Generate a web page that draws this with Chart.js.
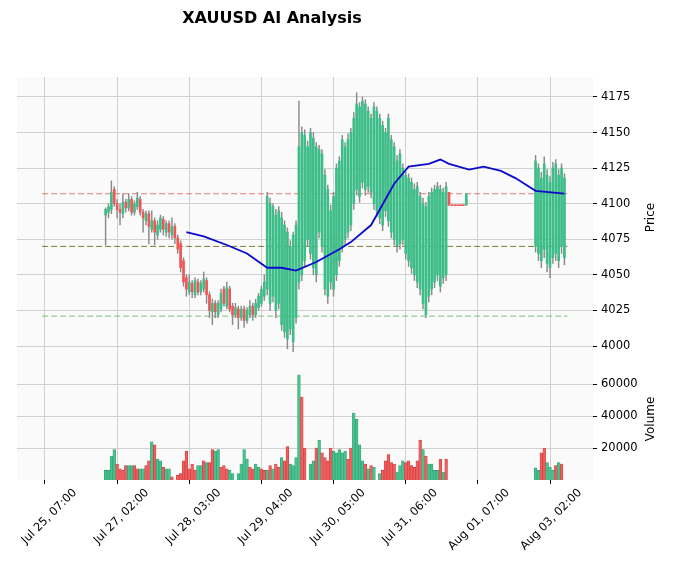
<!DOCTYPE html>
<html><head><meta charset="utf-8">
<script src="https://cdn.jsdelivr.net/npm/chart.js@4/dist/chart.umd.min.js"></script>
<style>html,body{margin:0;padding:0;background:#fff}#wrap{width:675px;height:578px}</style>
</head><body><div id="wrap"><canvas id="c" width="675" height="578"></canvas></div>
<script>
const chartTitle = "XAUUSD AI Analysis";
const tickPos = [0,25,50,75,100,125,150,175];
const tickLabels = ["Jul 25, 07:00","Jul 27, 02:00","Jul 28, 03:00","Jul 29, 04:00","Jul 30, 05:00","Jul 31, 06:00","Aug 01, 07:00","Aug 03, 02:00"];
const priceTicks = [4000,4025,4050,4075,4100,4125,4150,4175];
const volTicks = [20000,40000,60000];

// candle bar positions (bar index): 21..146 and 170..180
const candleRanges = [[21,146],[170,180]];
const open = [
4092,4094,4096,4110,4100,4096,4093,4101,4097,4103,4094,4098,4103,4094,4088,4093,4082,4088,4078,4082,4089,4080,4086,4078,4084,4076,4072,4060,
4048,4038,4044,4036,4045,4038,4040,4046,4036,4024,4030,4022,4026,4040,4028,4040,4028,4022,4026,4020,4026,4018,4022,4028,4022,4027,4030,4035,
4040,4030,4035,4025,4030,4015,4010,4005,4012,4003,4020,4045,4050,4060,4075,4065,4055,4050,4080,4070,4040,4035,4045,4040,4050,4060,4070,4075,4080,4085,
4100,4110,4105,4115,4110,4112,4108,4100,4095,4090,4085,4095,4088,4080,4075,4070,4072,4075,4065,4060,4055,4050,4045,4040,4030,4022,4035,4040,4045,4050,4042,4048,4050,
4108,4099,4099,4099,4099,4099,4099,
4070,4065,4060,4068,4058,4055,4062,4065,4060,4070,4062];
const close = [
4096,4098,4108,4100,4096,4094,4101,4097,4103,4094,4100,4104,4094,4090,4093,4084,4088,4080,4085,4090,4082,4086,4080,4084,4076,4068,4055,4045,
4040,4045,4038,4046,4038,4044,4047,4036,4025,4030,4024,4030,4037,4030,4041,4026,4022,4027,4020,4026,4018,4025,4028,4022,4030,4035,4040,4045,
4105,4100,4098,4092,4095,4090,4085,4080,4070,4078,4085,4140,4150,4148,4140,4150,4146,4140,4138,4135,4120,4110,4095,4105,4125,4130,4145,4140,4145,4150,
4160,4170,4168,4172,4170,4165,4160,4168,4165,4160,4155,4150,4160,4145,4140,4130,4135,4125,4120,4118,4115,4110,4112,4105,4100,4098,4105,4108,4110,4112,4110,4108,4112,
4099,4098.6,4098.6,4098.6,4098.6,4098.6,4107,
4130,4125,4118,4128,4120,4115,4125,4128,4120,4125,4118];
const high = [
4097,4100,4116,4112,4103,4100,4107,4103,4107,4105,4102,4108,4105,4096,4095,4095,4095,4090,4088,4092,4091,4088,4088,4090,4086,4078,4074,4062,
4050,4050,4046,4048,4047,4046,4052,4048,4038,4033,4032,4032,4040,4042,4045,4042,4030,4030,4028,4028,4028,4027,4032,4030,4033,4037,4042,4050,
4108,4104,4100,4096,4098,4094,4088,4083,4074,4080,4088,4172,4154,4152,4144,4153,4150,4143,4141,4138,4124,4113,4099,4108,4128,4133,4148,4143,4149,4153,
4164,4178,4171,4175,4173,4168,4163,4171,4168,4163,4158,4153,4163,4148,4143,4134,4138,4128,4123,4121,4118,4114,4115,4108,4104,4101,4108,4111,4113,4115,4113,4111,4115,
4108,4099,4099,4099,4099,4099,4107,
4134,4128,4122,4133,4124,4119,4129,4131,4124,4128,4121];
const low = [
4071,4090,4093,4098,4090,4085,4090,4094,4095,4092,4092,4096,4092,4080,4085,4072,4080,4071,4075,4080,4078,4077,4076,4075,4072,4065,4052,4042,
4035,4036,4034,4034,4036,4036,4038,4030,4020,4015,4020,4020,4024,4028,4026,4024,4015,4020,4012,4018,4013,4016,4020,4018,4020,4025,4028,4032,
4036,4025,4031,4020,4026,4011,4006,3998,4008,3996,4016,4040,4046,4056,4070,4061,4050,4045,4076,4066,4036,4030,4040,4035,4046,4056,4066,4071,4076,4081,
4096,4106,4101,4111,4106,4108,4104,4096,4091,4086,4081,4091,4084,4076,4071,4066,4068,4071,4061,4056,4051,4046,4041,4036,4026,4020,4031,4036,4041,4046,4038,4044,4046,
4099,4098.6,4098.6,4098.6,4098.6,4098.6,4099,
4066,4060,4055,4062,4052,4048,4058,4060,4055,4065,4057];

// volume positions: 21..139 and 170..179
const volRanges = [[21,139],[170,179]];
const volume = [
6000,6000,15000,19000,10000,7000,6000,9000,9000,9000,9000,7000,7000,7000,9000,12000,24000,22000,13000,12000,
8000,7000,7000,2000,0,3000,4000,12000,18000,7000,10000,6000,9000,9000,12000,11000,11000,19000,18000,19000,
8000,9000,7000,6000,4000,0,4000,10000,19000,13000,8000,7000,10000,8000,7000,6000,
6000,9000,7000,10000,8000,14000,12000,21000,10000,9000,14000,66000,52000,20000,0,10000,12000,20000,25000,17000,
14000,12000,20000,18000,17000,19000,17000,18000,13000,20000,42000,38000,22000,12000,10000,7000,9000,8000,0,4000,
6000,12000,16000,11000,10000,5000,9000,12000,11000,12000,9000,8000,12000,25000,19000,15000,10000,10000,6000,6000,
13000,5000,13000,
7600,6000,17000,20000,11000,8000,6000,9000,11000,10000];
const volumeUp = [
1,1,1,1,0,0,0,0,1,1,0,0,1,1,0,0,1,0,1,1,0,1,1,0,0,0,0,0,0,0,0,0,1,1,0,1,0,0,1,1,0,0,0,1,1,0,1,1,1,1,0,0,1,1,0,0,
1,0,1,0,0,1,0,0,1,1,1,1,0,0,0,1,1,0,1,0,0,0,0,1,1,1,1,1,0,0,1,1,1,1,0,1,0,1,0,1,0,0,0,0,0,1,1,1,0,0,0,0,0,0,1,0,1,1,1,1,0,1,0,
1,1,0,0,1,1,1,0,1,0];

// moving average line (bar index, price)
const maX = [49,55,63,70,77,82,87,94,102,106,113,121,126,133,137,140,147,152,158,163,170,180];
const maY = [4080,4077,4071,4065,4055,4055,4053,4059,4068,4073,4085,4114,4126,4128,4131,4128,4124,4126,4123,4118,4109,4107];

// horizontal levels
const levelNames = ["resistance","pivot","support"];
const levelValues = [4107,4070,4021];
const levelColors = ["rgba(220,90,90,0.8)","rgba(110,110,30,0.9)","rgba(90,180,90,0.8)"];
const levelSpan = [-1,181];

const UP="#3dbd88", DN="#f05656", UPV="#46c28e", DNV="#f25c5c";

function expand(ranges){const a=[];ranges.forEach(r=>{for(let i=r[0];i<=r[1];i++)a.push(i);});return a;}
const cIdx = expand(candleRanges), vIdx = expand(volRanges);

const bodies = cIdx.map((x,i)=>({x, y:[open[i],close[i]]}));
const bodyColors = cIdx.map((x,i)=>close[i]>=open[i]?UP:DN);
const wicks = cIdx.map((x,i)=>({x, y:[low[i],high[i]]}));
const vols = vIdx.map((x,i)=>({x, y:volume[i]}));
const volColors = vIdx.map((x,i)=>volumeUp[i]?UPV:DNV);
const volBorders = vIdx.map((x,i)=>volumeUp[i]?"#2f9a6c":"#c43c3c");

const datasets = [];
levelValues.forEach((v,k)=>datasets.push({type:'line',label:levelNames[k],data:levelSpan.map(x=>({x,y:v})),borderColor:levelColors[k],borderWidth:1,borderDash:[6,3],pointRadius:0,yAxisID:'y',order:3}));
datasets.push({type:'bar',label:'wick',data:wicks,backgroundColor:'#8a8a8a',barThickness:0.8,grouped:false,yAxisID:'y',order:2});
datasets.push({type:'bar',label:'body',data:bodies,backgroundColor:bodyColors,barThickness:2,grouped:false,minBarLength:1,yAxisID:'y',order:1});
datasets.push({type:'line',label:'MA',data:maX.map((x,i)=>({x,y:maY[i]})),borderColor:'#0a0acc',borderWidth:1.8,pointRadius:0,tension:0,yAxisID:'y',order:0});
datasets.push({type:'bar',label:'Volume',data:vols,backgroundColor:volColors,borderColor:volBorders,borderWidth:0.6,barThickness:2.7,grouped:false,yAxisID:'yv',order:1});

const bgPlugin={id:'bg',beforeDraw(ch){const a=ch.chartArea,c=ch.ctx;c.save();c.fillStyle='#fafafa';c.fillRect(a.left,a.top,a.right-a.left,a.bottom-a.top);c.restore();},
afterDraw(ch){const c=ch.ctx;c.save();c.fillStyle='#000';c.font='bold 16px "DejaVu Sans"';c.textAlign='center';c.textBaseline='middle';c.fillText(chartTitle,272,19);
c.font='12px "DejaVu Sans"';
[['y','Price'],['yv','Volume']].forEach(([id,t])=>{const s=ch.scales[id];c.save();c.translate(651,(s.top+s.bottom)/2);c.rotate(-Math.PI/2);c.fillText(t,0,0);c.restore();});
c.restore();}};

const fnt={family:'"DejaVu Sans"',size:11.5};
const plain=v=>String(v);
new Chart(document.getElementById('c'),{
data:{datasets},
plugins:[bgPlugin],
options:{responsive:false,animation:false,
layout:{padding:{top:77,left:17,right:0,bottom:0}},
plugins:{legend:{display:false},tooltip:{enabled:false}},
scales:{
x:{type:'linear',min:-9.7,max:189.9,offset:false,
 afterBuildTicks(s){s.ticks=tickPos.map(v=>({value:v}));},
 afterFit(s){s.height=98;s.paddingLeft=0;s.paddingRight=0;},
 ticks:{callback:(v,i)=>tickLabels[i],minRotation:45,maxRotation:45,color:'#000',font:fnt,padding:2,labelOffset:30},
 grid:{color:'#d0d0d0',tickColor:'#000',tickLength:4,offset:false},border:{display:false}},
y:{type:'linear',position:'right',stack:'p',stackWeight:281,min:3991.6,max:4189,
 afterBuildTicks(s){s.ticks=priceTicks.map(v=>({value:v}));},
 afterFit(s){s.width=82;s.paddingTop=0;s.paddingBottom=0;},
 ticks:{color:'#000',font:fnt,padding:4,callback:plain},grid:{color:'#d0d0d0',tickColor:'#000',tickLength:4},border:{display:false}},
yv:{type:'linear',position:'right',stack:'p',stackWeight:122,min:0,max:76500,
 afterBuildTicks(s){s.ticks=volTicks.map(v=>({value:v}));},
 afterFit(s){s.width=82;s.paddingTop=0;s.paddingBottom=0;},
 ticks:{color:'#000',font:fnt,padding:4,callback:plain},grid:{color:'#d0d0d0',tickColor:'#000',tickLength:4},border:{display:false}}
}}});
</script></body></html>
